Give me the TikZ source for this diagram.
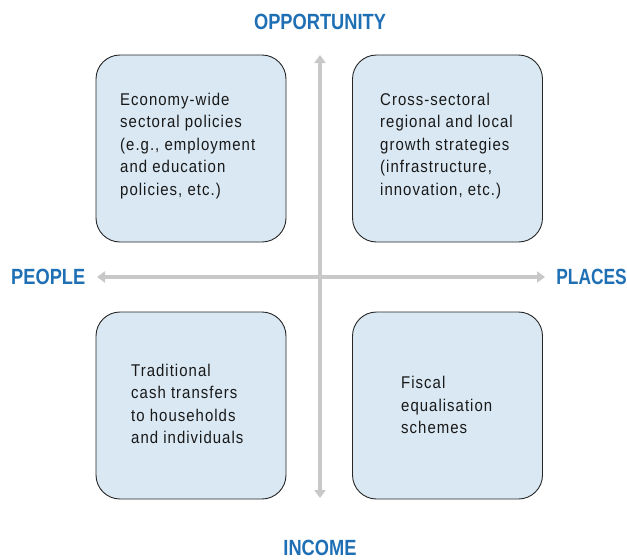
\documentclass[tikz,border=0pt]{standalone}
\usepackage{fontspec}
\setmainfont{Liberation Sans}[FakeStretch=0.86]
\newfontfamily\boxfont{Liberation Sans}[FakeStretch=0.88,LetterSpace=6]
\newfontfamily\labelfont{Liberation Sans}[FakeStretch=0.83]
\newfontfamily\labelfontn{Liberation Sans}[FakeStretch=0.79]
\usetikzlibrary{arrows.meta}
\definecolor{boxfill}{HTML}{D9E8F3}
\definecolor{axisgray}{HTML}{C8C8C8}
\definecolor{labelblue}{HTML}{1F6FB5}
\begin{document}
\begin{tikzpicture}[x=1pt,y=-1pt,
  quad/.style={draw=black!85,line width=0.9pt,fill=boxfill,rounded corners=24pt,minimum width=190pt,minimum height=187pt,inner sep=0pt},
  boxtext/.style={align=left,anchor=west,inner sep=0pt,font=\boxfont\fontsize{17}{22.5}\selectfont,text=black!90},
  axislabel/.style={font=\labelfont\fontsize{22}{24}\selectfont\bfseries,text=labelblue,inner sep=0pt},
  axisline/.style={draw=axisgray,line width=4pt,{Triangle[width=11pt,length=8pt]}-{Triangle[width=11pt,length=8pt]}}]
\useasboundingbox (0,0) rectangle (627,560);
\coordinate (top) at (320,55);
\coordinate (bottom) at (320,498);
\coordinate (left) at (97,277);
\coordinate (right) at (545,277);
\draw[axisline] (bottom) -- (top);
\draw[axisline] (left) -- (right);
\node[quad] (tl) at (191,148.5) {};
\node[quad] (tr) at (447.5,148.5) {};
\node[quad] (bl) at (191,405.5) {};
\node[quad] (br) at (447.5,405.5) {};
\node[boxtext] (tltext) at (120,146) {Economy-wide\\sectoral policies\\(e.g., employment\\and education\\policies, etc.)};
\node[boxtext] (trtext) at (380,146) {Cross-sectoral\\regional and local\\growth strategies\\(infrastructure,\\innovation, etc.)};
\node[boxtext] (bltext) at (131,404) {Traditional\\cash transfers\\to households\\and individuals};
\node[boxtext] (brtext) at (401,405) {Fiscal\\equalisation\\schemes};
\node[axislabel] (opp) at (320,22) {OPPORTUNITY};
\node[axislabel] (inc) at (320,548) {INCOME};
\node[axislabel,anchor=west] (peo) at (11,277) {PEOPLE};
\node[axislabel,anchor=east,font=\labelfontn\fontsize{22}{24}\selectfont\bfseries] (pla) at (627,277) {PLACES};
\end{tikzpicture}
\end{document}
